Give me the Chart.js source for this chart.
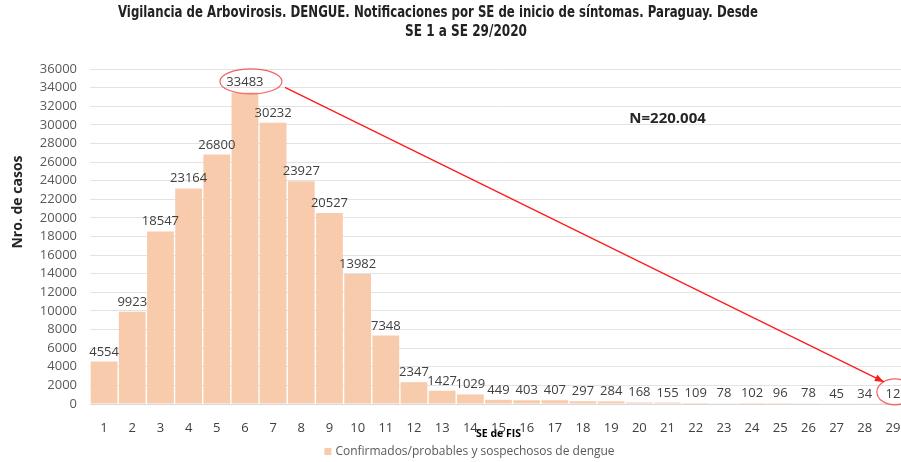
<!DOCTYPE html>
<html><head><meta charset="utf-8">
<script src="https://cdn.jsdelivr.net/npm/chart.js@4/dist/chart.umd.min.js"></script>
<style>html,body{margin:0;padding:0;background:#fff;overflow:hidden;width:901px;height:462px}
#w{width:910px;height:462px}</style>
</head><body><div id="w"><canvas id="c" width="910" height="462" style="width:910px;height:462px"></canvas></div>
<script>
const categories = ['1','2','3','4','5','6','7','8','9','10','11','12','13','14','15','16','17','18','19','20','21','22','23','24','25','26','27','28','29'];
const casos = [4554, 9923, 18547, 23164, 26800, 33483, 30232, 23927, 20527, 13982, 7348, 2347, 1427, 1029, 449, 403, 407, 297, 284, 168, 155, 109, 78, 102, 96, 78, 45, 34, 12];
const seriesName = 'Confirmados/probables y sospechosos de dengue';
const titleLines = ['Vigilancia de Arbovirosis. DENGUE. Notificaciones por SE de inicio de síntomas. Paraguay. Desde', 'SE 1 a SE 29/2020'];
const yTitle = 'Nro. de casos';
const xTitle = 'SE de FIS';
const nText = 'N=220.004';
const yMax = 36000, yStep = 2000;

const NUM_FONT = '"Open Sans", "Noto Sans", sans-serif';
const TITLE_FONT = '"Liberation Sans Narrow", "DejaVu Sans Condensed", "Noto Sans", sans-serif';

const extras = {
  id: 'extras',
  afterDatasetsDraw(chart) {
    const ctx = chart.ctx;
    const meta = chart.getDatasetMeta(0);
    const x = chart.scales.x, y = chart.scales.y;
    ctx.save();
    ctx.font = '13px ' + NUM_FONT;
    ctx.fillStyle = '#404040';
    ctx.textAlign = 'center';
    ctx.textBaseline = 'alphabetic';
    meta.data.forEach((bar, i) => {
      ctx.fillText(String(casos[i]), bar.x, bar.y - 6);
    });
    // annotations
    const iMax = casos.indexOf(Math.max(...casos));
    const iLast = casos.length - 1;
    const x1 = x.getPixelForValue(iMax), ly1 = y.getPixelForValue(casos[iMax]) - 11;
    const x2 = x.getPixelForValue(iLast), ly2 = y.getPixelForValue(casos[iLast]) - 11;
    ctx.strokeStyle = 'rgba(238,90,95,0.95)';
    ctx.lineWidth = 1.2;
    ctx.beginPath(); ctx.ellipse(x1 + 6, ly1, 31, 12.5, 0, 0, Math.PI * 2); ctx.stroke();
    ctx.beginPath(); ctx.ellipse(x2 + 2, ly2 - 1, 18, 13, 0, 0, Math.PI * 2); ctx.stroke();
    // arrow
    const sx = x1 + 40, sy = ly1 + 6, ex = x2 - 9, ey = ly2 - 11;
    ctx.strokeStyle = '#ff1a1a'; ctx.fillStyle = '#ff1a1a'; ctx.lineWidth = 1.3;
    ctx.beginPath(); ctx.moveTo(sx, sy); ctx.lineTo(ex, ey); ctx.stroke();
    const ang = Math.atan2(ey - sy, ex - sx), L = 9, W = 3.5;
    ctx.beginPath();
    ctx.moveTo(ex, ey);
    ctx.lineTo(ex - L * Math.cos(ang) + W * Math.sin(ang), ey - L * Math.sin(ang) - W * Math.cos(ang));
    ctx.lineTo(ex - L * Math.cos(ang) - W * Math.sin(ang), ey - L * Math.sin(ang) + W * Math.cos(ang));
    ctx.closePath(); ctx.fill();
    // N text
    ctx.fillStyle = '#262626';
    ctx.font = 'bold 15px ' + NUM_FONT;
    ctx.textAlign = 'center'; ctx.textBaseline = 'middle';
    ctx.fillText(nText, x.getPixelForValue(20), y.getPixelForValue(30700));
    ctx.restore();
  },
  afterDraw(chart) {
    const ctx = chart.ctx;
    ctx.save();
    // title
    ctx.fillStyle = '#222';
    ctx.font = 'bold 15px ' + TITLE_FONT;
    ctx.textAlign = 'center'; ctx.textBaseline = 'middle';
    ctx.fillText(titleLines[0], 438, 13, 640);
    ctx.fillText(titleLines[1], 466, 32, 122);
    // y title
    ctx.save();
    ctx.translate(18, 202);
    ctx.rotate(-Math.PI / 2);
    ctx.font = 'bold 14px ' + NUM_FONT;
    ctx.fillStyle = '#262626';
    ctx.fillText(yTitle, 0, 0);
    ctx.restore();
    // legend
    ctx.font = '12px ' + NUM_FONT;
    const tw = ctx.measureText(seriesName).width;
    const cx = 470, ly = 452;
    const bx = cx - (tw + 12) / 2;
    ctx.fillStyle = chart.data.datasets[0].backgroundColor;
    ctx.fillRect(bx, ly - 4, 7, 7);
    ctx.fillStyle = '#595959';
    ctx.textAlign = 'left';
    ctx.fillText(seriesName, bx + 11, ly);
    ctx.restore();
  }
};

new Chart(document.getElementById('c'), {
  type: 'bar',
  data: {
    labels: categories,
    datasets: [{
      label: seriesName,
      data: casos,
      backgroundColor: '#F8CBAD',
      barPercentage: 0.95,
      categoryPercentage: 1.0
    }]
  },
  options: {
    responsive: false,
    animation: false,
    layout: { padding: { top: 69, right: 3, bottom: 22, left: 0 } },
    plugins: { legend: { display: false }, title: { display: false }, tooltip: { enabled: false } },
    scales: {
      x: {
        grid: { display: false },
        border: { display: true, color: '#d9d9d9' },
        ticks: { color: '#404040', font: { family: NUM_FONT, size: 13 }, padding: 8, maxRotation: 0, autoSkip: false },
        title: { display: true, text: xTitle, color: '#000', font: { family: NUM_FONT, size: 10.5, weight: 'bold' }, padding: { top: 0, bottom: 0 } },
        afterFit(s) { s.height = 36; }
      },
      y: {
        min: 0, max: yMax,
        grid: { color: '#e3e3e3', drawTicks: false, lineWidth: 1 },
        border: { display: false },
        ticks: { stepSize: yStep, color: '#595959', font: { family: NUM_FONT, size: 13 }, padding: 13, callback: (v) => String(v) },
        afterFit(s) { s.width = 90; }
      }
    }
  },
  plugins: [extras]
});
</script>
</body></html>
